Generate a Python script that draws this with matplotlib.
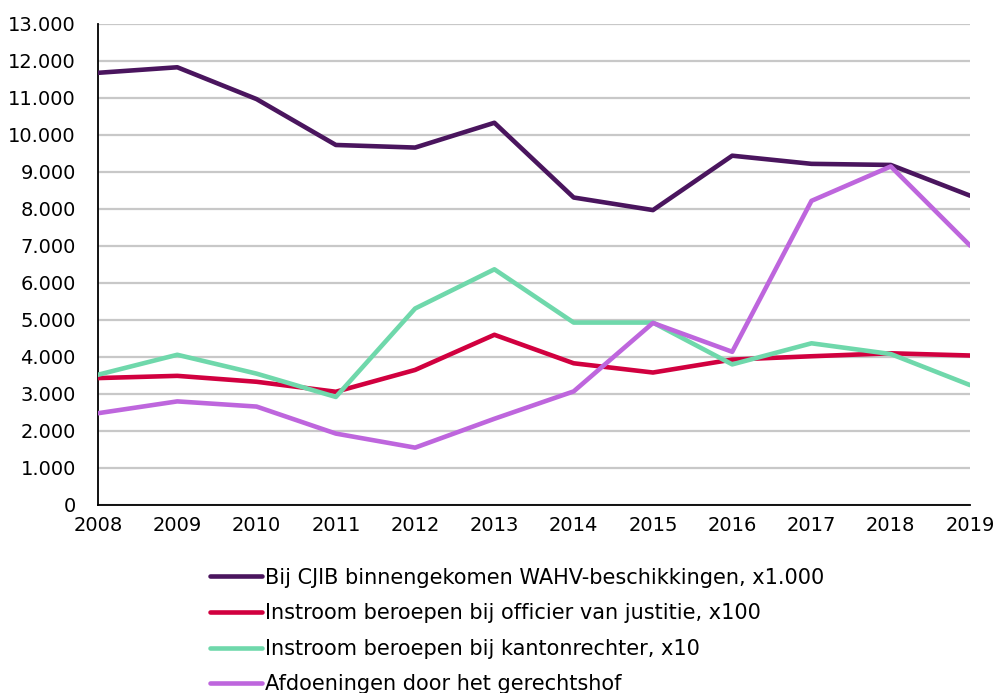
import matplotlib.pyplot as plt
from matplotlib.ticker import FuncFormatter

# jaren en reeksen
jaren = list(range(2008, 2020))
cjib = [11680, 11830, 10970, 9730, 9660, 10330, 8310, 7970, 9440, 9220, 9190, 8360]
officier = [3430, 3490, 3330, 3060, 3650, 4600, 3830, 3580, 3930, 4020, 4100, 4040]
kanton = [3520, 4060, 3550, 2920, 5310, 6370, 4930, 4930, 3800, 4370, 4080, 3240]
hof = [2480, 2800, 2660, 1930, 1550, 2330, 3070, 4920, 4140, 8220, 9150, 7010]

labels = ["Bij CJIB binnengekomen WAHV-beschikkingen, x1.000",
          "Instroom beroepen bij officier van justitie, x100",
          "Instroom beroepen bij kantonrechter, x10",
          "Afdoeningen door het gerechtshof"]
kleuren = ["#4A155E", "#D1003F", "#6FD8AB", "#BE66DD"]

plt.rcParams['font.family'] = ['DejaVu Sans']
fig = plt.figure(figsize=(9.98, 6.93), dpi=100)
ax = fig.add_axes([0.0982, 0.2713, 0.8738, 0.6941])

for reeks, kleur, label in zip([cjib, officier, kanton, hof], kleuren, labels):
    ax.plot(jaren, reeks, color=kleur, lw=3.3, label=label, solid_capstyle='round', zorder=3)

ax.set_xlim(2008, 2019)
ax.set_ylim(0, 13000)
ax.set_xticks(jaren)
ax.set_yticks(range(0, 13001, 1000))
ax.yaxis.set_major_formatter(FuncFormatter(lambda v, p: f"{int(v):,}".replace(",", ".")))
ax.tick_params(length=0, labelsize=14, colors='black')
ax.tick_params(axis='x', pad=8)
ax.tick_params(axis='y', pad=16)
ax.grid(axis='y', color='#C8C8C8', lw=1.6, zorder=0)
ax.set_axisbelow(True)
for s in ['top', 'right']:
    ax.spines[s].set_visible(False)
ax.spines['left'].set_linewidth(1.3)
ax.spines['bottom'].set_linewidth(1.3)

fig.legend(loc='upper left', bbox_to_anchor=(0.2104, 0.181), frameon=False, fontsize=15,
           handlelength=2.5, handletextpad=0.15, labelspacing=0.75, borderpad=0, borderaxespad=0)

fig.savefig("out.png", dpi=100)
